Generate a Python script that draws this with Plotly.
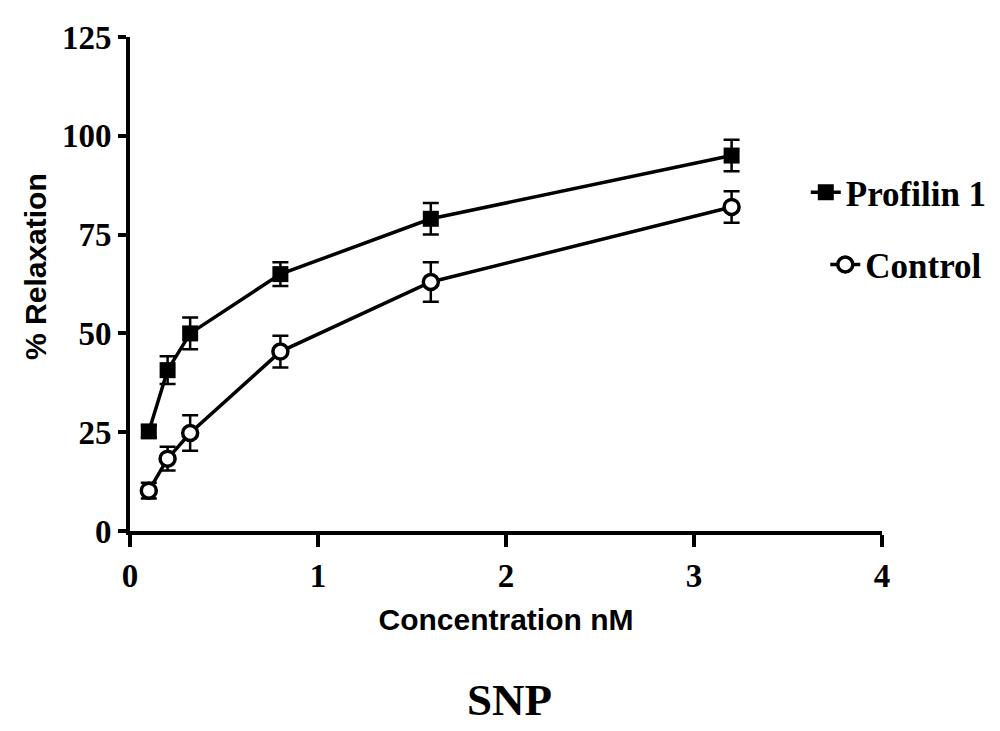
import plotly.graph_objects as go

# SNP concentration (nM) and % relaxation
conc = [0.1, 0.2, 0.32, 0.8, 1.6, 3.2]
profilin = [25.2, 40.7, 50.0, 65.0, 79.0, 95.0]
profilin_err = [1.5, 3.5, 4.0, 3.0, 4.0, 4.0]
control = [10.2, 18.3, 24.8, 45.4, 63.0, 82.0]
control_err = [2.0, 3.0, 4.5, 4.0, 5.0, 4.0]

y_ticks = [0, 25, 50, 75, 100, 125]
x_ticks = [0, 1, 2, 3, 4]

serif = "Liberation Serif"
sans = "Liberation Sans"

fig = go.Figure()

fig.add_trace(go.Scatter(
    x=conc, y=profilin, name="<b>Profilin 1</b>", mode="lines+markers",
    line=dict(color="black", width=3.5),
    marker=dict(symbol="square", size=16, color="black"),
    error_y=dict(type="data", array=profilin_err, color="black", thickness=2.5, width=8),
    legend="legend",
))
fig.add_trace(go.Scatter(
    x=conc, y=control, name="<b>Control</b>", mode="lines+markers",
    line=dict(color="black", width=3.5),
    marker=dict(symbol="circle", size=15, color="white", line=dict(color="black", width=3.5)),
    error_y=dict(type="data", array=control_err, color="black", thickness=2.5, width=8),
    legend="legend2",
))

axis_common = dict(
    showline=True, linecolor="black", linewidth=4,
    ticks="outside", tickcolor="black", tickwidth=4,
    showgrid=False, zeroline=False, ticklabeloverflow="allow",
    tickfont=dict(family=serif, size=33, color="black", weight="bold"),
)

fig.update_xaxes(
    range=[0, 4], tickvals=x_ticks, ticklen=12,
    title=dict(text="<b>Concentration nM</b>", font=dict(family=sans, size=30, color="black"), standoff=17),
    **axis_common,
)
fig.update_yaxes(range=[0, 125], tickvals=y_ticks, ticklen=8, **axis_common)

legend_style = dict(
    xanchor="right", yanchor="middle", bgcolor="rgba(0,0,0,0)",
    font=dict(family=serif, size=35, color="black"),
)
fig.update_layout(
    width=1000, height=731,
    margin=dict(l=122, r=126, t=15, b=208),
    paper_bgcolor="white", plot_bgcolor="white",
    showlegend=True,
    legend=dict(x=1.146, y=0.685, **legend_style),
    legend2=dict(x=1.14, y=0.539, **legend_style),
    annotations=[
        dict(
            text="<b>% Relaxation</b>", xref="paper", yref="paper", x=-0.126, y=0.535,
            textangle=-90, showarrow=False, font=dict(family=sans, size=30, color="black"),
            xanchor="center", yanchor="middle",
        ),
        dict(
            text="<b>SNP</b>", xref="paper", yref="paper", x=0.505, y=-0.342,
            showarrow=False, font=dict(family=serif, size=45, color="black"),
            xanchor="center", yanchor="middle",
        ),
    ],
)

fig.write_html("out.html")
